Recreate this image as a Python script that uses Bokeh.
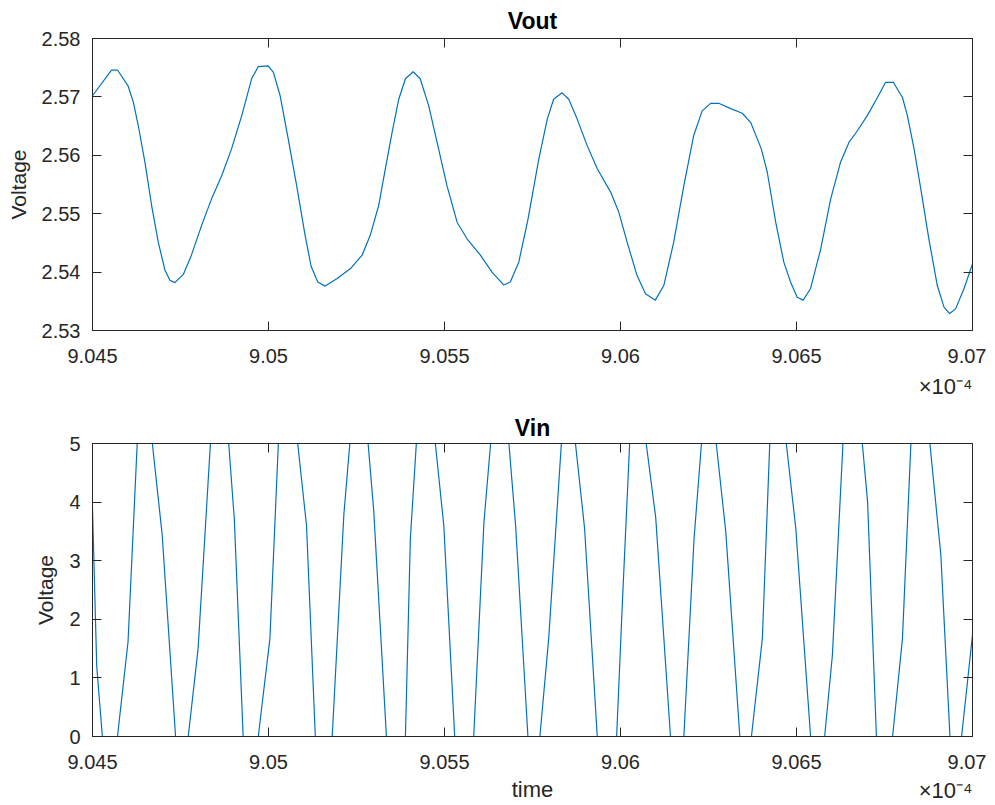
from bokeh.plotting import figure
from bokeh.layouts import column
from bokeh.models import Range1d, FixedTicker, LinearAxis, Title
from bokeh.embed import file_html
from bokeh.resources import INLINE

# time in units of 1e-4 s
t_out = [9.04500, 9.04554, 9.04571, 9.04601, 9.04616, 9.04630, 9.04649, 9.04668, 9.04687, 9.04706,
         9.04720, 9.04734, 9.04758, 9.04781, 9.04810, 9.04838, 9.04867, 9.04895, 9.04924, 9.04952,
         9.04971, 9.04999, 9.05014, 9.05033, 9.05056, 9.05080, 9.05104, 9.05121, 9.05140, 9.05161,
         9.05195, 9.05233, 9.05266, 9.05289, 9.05313, 9.05332, 9.05351, 9.05370, 9.05389, 9.05411,
         9.05431, 9.05455, 9.05479, 9.05507, 9.05536, 9.05564, 9.05602, 9.05635, 9.05668, 9.05687,
         9.05711, 9.05737, 9.05768, 9.05792, 9.05810, 9.05834, 9.05853, 9.05877, 9.05905, 9.05934,
         9.05972, 9.05995, 9.06019, 9.06047, 9.06071, 9.06099, 9.06123, 9.06151, 9.06180, 9.06208,
         9.06232, 9.06256, 9.06279, 9.06313, 9.06346, 9.06370, 9.06400, 9.06417, 9.06441, 9.06464,
         9.06483, 9.06502, 9.06519, 9.06540, 9.06569, 9.06597, 9.06625, 9.06649, 9.06673, 9.06701,
         9.06730, 9.06753, 9.06775, 9.06801, 9.06815, 9.06834, 9.06853, 9.06876, 9.06900, 9.06919,
         9.06935, 9.06952, 9.06976, 9.07000]
v_out = [2.5702, 2.5746, 2.5746, 2.5719, 2.5691, 2.5651, 2.5588, 2.5514, 2.5451, 2.5403,
         2.5386, 2.5382, 2.5396, 2.5429, 2.5480, 2.5525, 2.5565, 2.5611, 2.5668, 2.5731,
         2.5752, 2.5753, 2.5742, 2.5702, 2.5628, 2.5548, 2.5463, 2.5410, 2.5383, 2.5376,
         2.5389, 2.5406, 2.5429, 2.5463, 2.5514, 2.5577, 2.5639, 2.5696, 2.5731, 2.5743,
         2.5731, 2.5685, 2.5622, 2.5548, 2.5485, 2.5457, 2.5429, 2.5400, 2.5378, 2.5383,
         2.5417, 2.5490, 2.5594, 2.5662, 2.5696, 2.5707, 2.5696, 2.5662, 2.5617, 2.5577,
         2.5537, 2.5503, 2.5451, 2.5394, 2.5363, 2.5352, 2.5377, 2.5451, 2.5548, 2.5634,
         2.5676, 2.5689, 2.5689, 2.5680, 2.5672, 2.5656, 2.5611, 2.5571, 2.5485, 2.5417,
         2.5383, 2.5357, 2.5352, 2.5372, 2.5440, 2.5525, 2.5588, 2.5622, 2.5642, 2.5668,
         2.5699, 2.5725, 2.5725, 2.5699, 2.5668, 2.5611, 2.5543, 2.5457, 2.5377, 2.5340,
         2.5329, 2.5337, 2.5372, 2.5414]

t_in = [9.04500, 9.04512, 9.04528, 9.04571, 9.04601, 9.04627, 9.04670, 9.04698, 9.04736, 9.04772,
        9.04800, 9.04835, 9.04887, 9.04903, 9.04928, 9.04971, 9.05004, 9.05028, 9.05083, 9.05108,
        9.05133, 9.05181, 9.05214, 9.05231, 9.05283, 9.05299, 9.05335, 9.05389, 9.05403, 9.05420,
        9.05474, 9.05498, 9.05529, 9.05583, 9.05612, 9.05631, 9.05683, 9.05702, 9.05737, 9.05771,
        9.05796, 9.05832, 9.05872, 9.05898, 9.05934, 9.05989, 9.06005, 9.06026, 9.06073, 9.06100,
        9.06142, 9.06180, 9.06209, 9.06230, 9.06272, 9.06299, 9.06339, 9.06372, 9.06403, 9.06424,
        9.06471, 9.06498, 9.06540, 9.06580, 9.06602, 9.06632, 9.06687, 9.06702, 9.06727, 9.06773,
        9.06801, 9.06825, 9.06879, 9.06910, 9.06936, 9.06969, 9.07000]
v_in = [3.9, 1.2, 0, 0, 1.62, 5, 5, 3.44, 0, 0,
        1.5, 5, 5, 3.7, 0, 0, 1.67, 5, 5, 3.6,
        0, 0, 3.78, 5, 5, 3.85, 0, 0, 3.38, 5,
        5, 3.6, 0, 0, 3.65, 5, 5, 3.6, 0, 0,
        1.67, 5, 5, 3.55, 0, 0, 2.24, 5, 5, 3.74,
        0, 0, 3.38, 5, 5, 3.5, 0, 0, 1.67, 5,
        5, 3.55, 0, 0, 1.39, 5, 5, 4.0, 0, 0,
        1.67, 5, 5, 3.1, 0, 0, 1.73]

x_ticks = [9.045, 9.05, 9.055, 9.06, 9.065, 9.07]
x_tick_labels = ["9.045", "9.05", "9.055", "9.06", "9.065", "9.07"]
vout_ticks = [2.53, 2.54, 2.55, 2.56, 2.57, 2.58]
vout_tick_labels = ["2.53", "2.54", "2.55", "2.56", "2.57", "2.58"]
vin_ticks = [0, 1, 2, 3, 4, 5]
vin_tick_labels = ["0", "1", "2", "3", "4", "5"]
x_exponent = "×10⁻⁴"

FONT = "Liberation Sans"
AX = "#262626"
BLUE = "#0072BD"
FW = 880


def style_axis(ax, ticks, labels, show_labels=True):
    ax.ticker = FixedTicker(ticks=ticks)
    ax.major_label_overrides = dict(zip(ticks, labels))
    ax.major_tick_in = 9
    ax.major_tick_out = 0
    ax.minor_tick_line_color = None
    ax.axis_line_color = AX
    ax.major_tick_line_color = AX
    ax.major_label_text_font = FONT
    ax.major_label_text_color = AX
    if show_labels:
        ax.major_label_text_font_size = "20px"
        ax.major_label_standoff = 18
    else:
        ax.major_label_text_font_size = "0px"
        ax.major_label_text_alpha = 0
        ax.major_label_standoff = 0


def make(title, t, v, y0, y1, yticks, ylabels, height, mtop, mbottom,
         title_standoff, xlabel, exp_standoff):
    p = figure(width=92 + FW + 14, height=height,
               x_range=Range1d(9.045, 9.07), y_range=Range1d(y0, y1),
               output_backend="svg", toolbar_location=None,
               min_border_left=92, min_border_right=14,
               min_border_top=mtop, min_border_bottom=mbottom)
    p.title.text = title
    p.title.align = "center"
    p.title.text_font = FONT
    p.title.text_font_size = "23px"
    p.title.text_font_style = "bold"
    p.title.text_color = "#000000"
    p.title.standoff = title_standoff
    p.xgrid.visible = False
    p.ygrid.visible = False
    p.outline_line_color = AX
    p.background_fill_color = "white"
    p.border_fill_color = "white"

    xa = p.below[0]
    style_axis(xa, x_ticks, x_tick_labels)
    ya = p.left[0]
    style_axis(ya, yticks, ylabels)
    ya.major_label_standoff = 12
    ya.axis_label = "Voltage"
    ya.axis_label_text_font = FONT
    ya.axis_label_text_font_size = "21px"
    ya.axis_label_text_font_style = "normal"
    ya.axis_label_text_color = AX
    ya.axis_label_standoff = 9
    if xlabel:
        xa.axis_label = xlabel
        xa.axis_label_text_font = FONT
        xa.axis_label_text_font_size = "22px"
        xa.axis_label_text_font_style = "normal"
        xa.axis_label_text_color = AX
        xa.axis_label_standoff = 5

    top = LinearAxis()
    style_axis(top, x_ticks, x_tick_labels, show_labels=False)
    p.add_layout(top, "above")
    right = LinearAxis()
    style_axis(right, yticks, ylabels, show_labels=False)
    p.add_layout(right, "right")

    p.line(t, v, line_color=BLUE, line_width=1.2)

    exp = Title(text=x_exponent, align="right", vertical_align="top",
                text_font=FONT, text_font_size="22px", text_font_style="normal",
                text_color=AX, standoff=exp_standoff)
    p.add_layout(exp, "below")
    return p


p1 = make("Vout", t_out, v_out, 2.53, 2.58, vout_ticks, vout_tick_labels,
          408, 38, 78, 9, None, 16)
p2 = make("Vin", t_in, v_in, 0, 5, vin_ticks, vin_tick_labels,
          396, 35, 68, 6, "time", -53)

layout = column(p1, p2)
open("out.html", "w").write(file_html(layout, INLINE))
